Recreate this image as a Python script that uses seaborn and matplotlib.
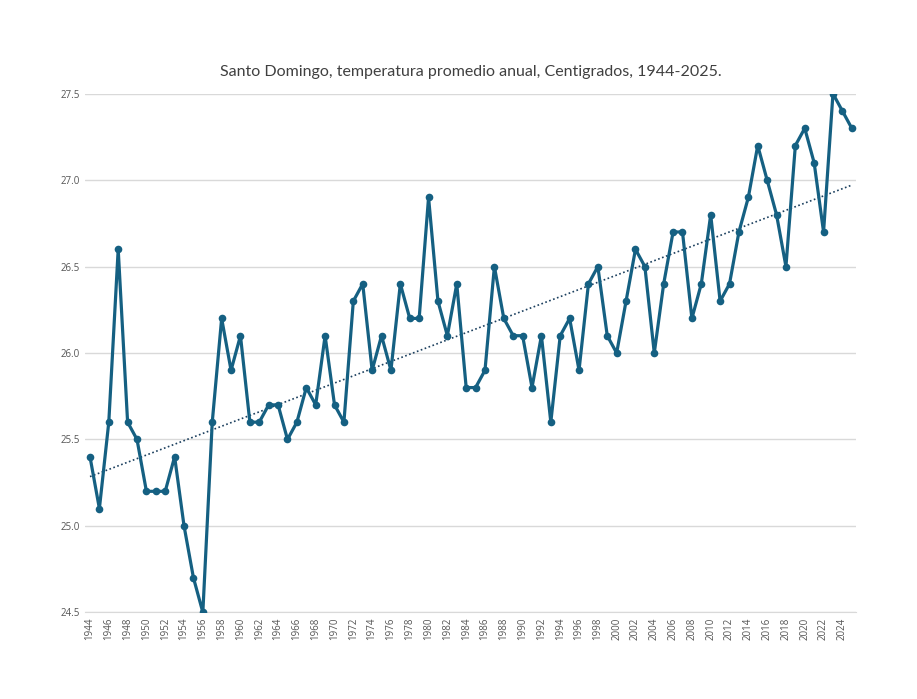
#-Santo Domingo annual mean temperature, 1944-2025
import matplotlib.pyplot as plt
import seaborn as sns
import numpy as np
import pandas as pd

#---data
years = list(range(1944, 2026))
temps = [25.4, 25.1, 25.6, 26.6, 25.6, 25.5, 25.2, 25.2, 25.2, 25.4,
         25.0, 24.7, 24.5, 25.6, 26.2, 25.9, 26.1, 25.6, 25.6, 25.7,
         25.7, 25.5, 25.6, 25.8, 25.7, 26.1, 25.7, 25.6, 26.3, 26.4,
         25.9, 26.1, 25.9, 26.4, 26.2, 26.2, 26.9, 26.3, 26.1, 26.4,
         25.8, 25.8, 25.9, 26.5, 26.2, 26.1, 26.1, 25.8, 26.1, 25.6,
         26.1, 26.2, 25.9, 26.4, 26.5, 26.1, 26.0, 26.3, 26.6, 26.5,
         26.0, 26.4, 26.7, 26.7, 26.2, 26.4, 26.8, 26.3, 26.4, 26.7,
         26.9, 27.2, 27.0, 26.8, 26.5, 27.2, 27.3, 27.1, 26.7, 27.5,
         27.4, 27.3]
y_ticks = [24.5, 25.0, 25.5, 26.0, 26.5, 27.0, 27.5]
title = 'Santo Domingo, temperatura promedio anual, Centigrados, 1944-2025.'

df = pd.DataFrame({'year': years, 'temp': temps})

#linear trend like excel's trendline
slope, intercept = np.polyfit(df['year'], df['temp'], 1)
df['trend'] = slope * df['year'] + intercept

sns.set_style('white')
plt.rcParams['font.family'] = ['Open Sans', 'DejaVu Sans']

fig, ax = plt.subplots(figsize=(9.17, 6.99), dpi=100)
fig.subplots_adjust(left=0.093, right=0.934, top=0.866, bottom=0.124)

line_col = '#156082'
sns.lineplot(x='year', y='temp', data=df, ax=ax, color=line_col, linewidth=2.3,
             marker='o', markersize=5.5, markeredgewidth=0, zorder=3)
sns.lineplot(x='year', y='trend', data=df, ax=ax, color='#1b3f5e', linewidth=1.2,
             linestyle=(0, (1, 1.5)), zorder=2)

ax.set_xlim(years[0] - 0.5, years[-1] + 0.5)
ax.set_ylim(y_ticks[0], y_ticks[-1])
ax.set_yticks(y_ticks)
ax.set_yticklabels([f'{v:.1f}' for v in y_ticks], fontsize=7, color='#555555')
ax.set_xticks(years[::2])
ax.set_xticklabels(years[::2], rotation=90, fontsize=7, color='#555555')
ax.tick_params(axis='both', length=0, pad=4)
ax.yaxis.grid(True, color='#d9d9d9', linewidth=1)
ax.set_axisbelow(True)
for s in ['top', 'right', 'left']:
    ax.spines[s].set_visible(False)
ax.spines['bottom'].set_color('#d9d9d9')
ax.set_xlabel('')
ax.set_ylabel('')
ax.set_title(title, fontsize=11.5, color='#404040', pad=13, family=['Lato', 'DejaVu Sans'])

plt.savefig('out.png', dpi=100)
